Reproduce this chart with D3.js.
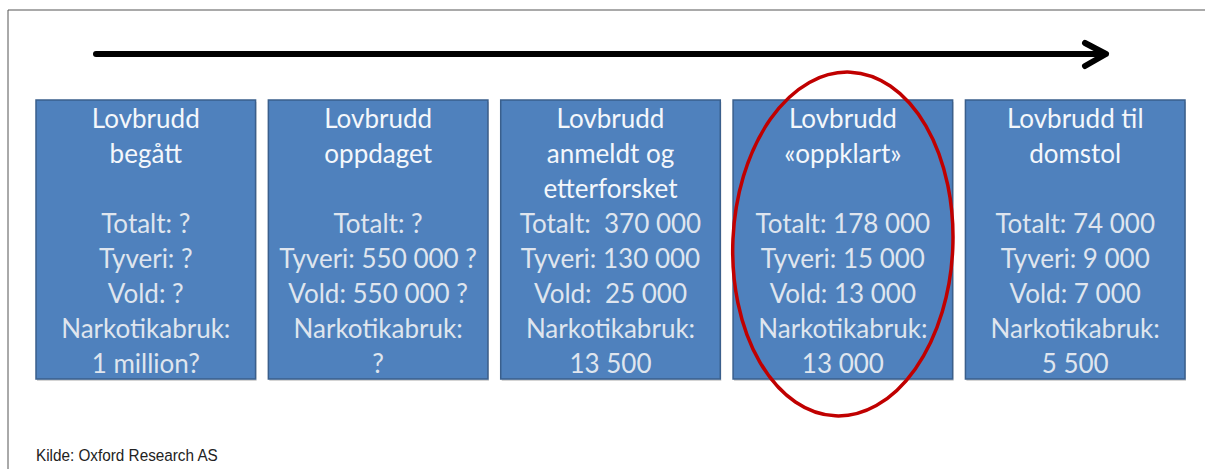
<!DOCTYPE html>
<html><head><meta charset="utf-8">
<script src="https://cdn.jsdelivr.net/npm/d3@7/dist/d3.min.js"></script>
<style>body{margin:0;background:#fff}svg{display:block}</style>
</head><body>
<script>
// ---- data ----
const stages = ["begått", "oppdaget", "anmeldt", "oppklart", "domstol"];
const stageTitles = [["Lovbrudd", "begått"], ["Lovbrudd", "oppdaget"], ["Lovbrudd", "anmeldt og", "etterforsket"], ["Lovbrudd", "«oppklart»"], ["Lovbrudd til", "domstol"]];
const totalt = ["?", "?", " 370 000", "178 000", "74 000"];
const tyveri = ["?", "550 000 ?", "130 000", "15 000", "9 000"];
const vold = ["?", "550 000 ?", " 25 000", "13 000", "7 000"];
const narkotika = ["1 million?", "?", "13 500", "13 000", "5 500"];
const highlighted = "oppklart";
const source = "Kilde: Oxford Research AS";

// ---- layout ----
const W = 1205, H = 469;
const svg = d3.select("body").append("svg").attr("width", W).attr("height", H);

// frame (top + left)
svg.append("path").attr("d", `M8,${H} L8,10 L${W},10`).attr("fill", "none").attr("stroke", "#555").attr("stroke-width", 1);

const x = d3.scaleBand().domain(stages).range([36, 1185]).paddingInner(0.055);
const lineY = d3.scaleLinear().domain([0, 7]).range([119, 364]); // 8 text rows, 35px apart
const boxTop = 100, boxBottom = 379;

// arrow
svg.append("line").attr("x1", 96).attr("y1", 54).attr("x2", 1103).attr("y2", 54)
  .attr("stroke", "#000").attr("stroke-width", 6).attr("stroke-linecap", "round");
svg.append("path").attr("d", "M1085,43 L1106,54 L1085,66")
  .attr("fill", "none").attr("stroke", "#000").attr("stroke-width", 6)
  .attr("stroke-linecap", "round").attr("stroke-linejoin", "round");

const g = svg.selectAll("g.stage").data(stages).join("g").attr("class", "stage");
// shadow
g.append("rect").attr("x", d => x(d) + 1).attr("y", boxTop + 2)
  .attr("width", x.bandwidth()).attr("height", boxBottom - boxTop)
  .attr("fill", "#b8b8b8").attr("opacity", 0.6);
g.append("rect").attr("x", d => x(d)).attr("y", boxTop)
  .attr("width", x.bandwidth()).attr("height", boxBottom - boxTop)
  .attr("fill", "#4f81bd").attr("stroke", "#3a5f8c").attr("stroke-width", 1.5);

const font = "Lato, 'Open Sans', sans-serif";
g.each(function (d, i) {
  const rows = [];
  stageTitles[i].forEach((t, k) => rows.push({ t, r: k, title: true }));
  const base = 3;
  rows.push({ t: "Totalt: " + totalt[i], r: base });
  rows.push({ t: "Tyveri: " + tyveri[i], r: base + 1 });
  rows.push({ t: "Vold: " + vold[i], r: base + 2 });
  rows.push({ t: "Narkotikabruk:", r: base + 3 });
  rows.push({ t: narkotika[i], r: base + 4 });
  d3.select(this).selectAll("text").data(rows).join("text")
    .attr("x", x(d) + x.bandwidth() / 2)
    .attr("y", r => lineY(r.r))
    .attr("dy", "0.36em")
    .attr("text-anchor", "middle")
    .attr("font-family", font)
    .attr("font-size", 26)
    .attr("fill", r => r.title ? "#f4f7fb" : "#dfe5ee")
    .style("white-space", "pre")
    .text(r => r.t);
});

// highlight ellipse
const cx = x(highlighted) + x.bandwidth() / 2;
svg.append("ellipse").attr("cx", cx).attr("cy", 244).attr("rx", 110).attr("ry", 172)
  .attr("transform", `rotate(2.5,${cx},244)`)
  .attr("fill", "none").attr("stroke", "#c00000").attr("stroke-width", 3.5);

svg.append("text").attr("transform", "translate(36,461) scale(0.9,1)")
  .attr("font-family", "'Liberation Sans', Arial, sans-serif")
  .attr("font-size", 17).attr("fill", "#222").text(source);
</script>
</body></html>
